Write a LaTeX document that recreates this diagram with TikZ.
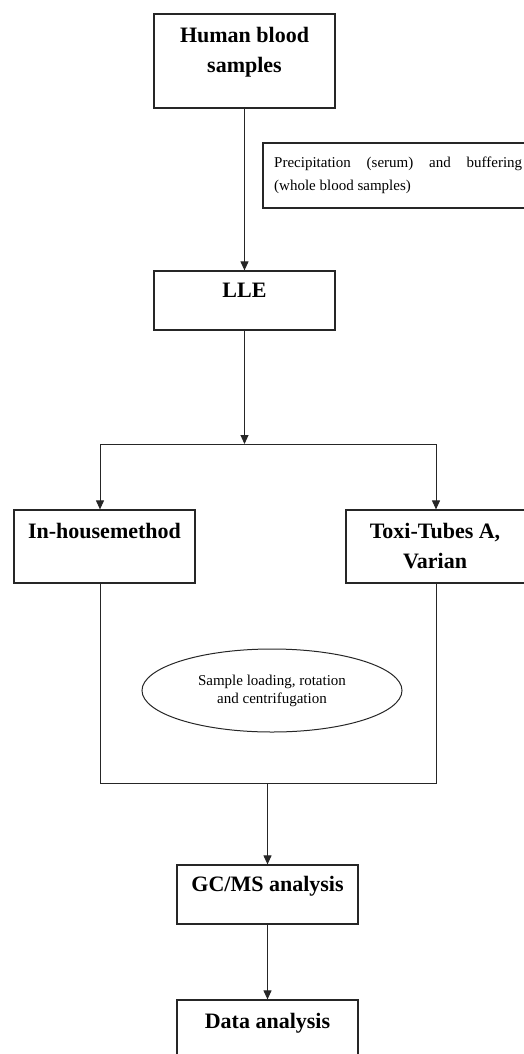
\documentclass[tikz,border=0pt]{standalone}
\usepackage{fontspec}
\setmainfont{Liberation Serif}
\usetikzlibrary{arrows.meta,shapes.geometric,calc}
\begin{document}
\begin{tikzpicture}[x=1pt,y=-1pt,
  box/.style={draw=black!85, line width=1.2pt, rectangle, inner sep=0pt},
  bigtxt/.style={font=\fontsize{22}{30}\selectfont\bfseries, align=center, inner sep=0pt, anchor=north},
  smalltxt/.style={font=\fontsize{15}{18}\selectfont, align=center, inner sep=0pt},
  arr/.style={draw=black!85, -{Triangle[length=9pt,width=8pt]}, line width=1pt},
  ln/.style={draw=black!85, line width=1pt}]
\useasboundingbox (0,0) rectangle (524,1054);
\clip (0,0) rectangle (524,1054);

% boxes
\node[box, minimum width=181pt, minimum height=94pt] (human) at (244.5,61) {};
\node[bigtxt] (humant) at (244.5,27) {Human blood\\samples};

\node[box, minimum width=267pt, minimum height=65pt] (prec) at (396.5,175.5) {};
\node[anchor=north west, inner sep=0pt, align=left, font=\fontsize{15}{23}\selectfont] (prect) at (274,157)
  {\makebox[248pt][s]{Precipitation (serum) and buffering}\\(whole blood samples)};

\node[box, minimum width=181pt, minimum height=59pt] (lle) at (244.5,300.5) {};
\node[bigtxt] (llet) at (244.5,283) {LLE};

\node[box, minimum width=181pt, minimum height=73pt] (inhouse) at (104.5,546.5) {};
\node[bigtxt] (inhouset) at (104.5,523) {In-housemethod};

\node[box, minimum width=180pt, minimum height=73pt] (toxi) at (436,546.5) {};
\node[bigtxt] (toxit) at (435,523) {Toxi-Tubes A,\\Varian};

\node[draw=black!85, line width=1pt, ellipse, minimum width=260pt, minimum height=83pt, inner sep=0pt,
      smalltxt] (ell) at (272,690.5) {Sample loading, rotation\\and centrifugation};

\node[box, minimum width=181pt, minimum height=59pt] (gc) at (267.5,894.5) {};
\node[bigtxt] (gct) at (267.5,876) {GC/MS analysis};

\node[box, minimum width=181pt, minimum height=64pt] (data) at (267.5,1032) {};
\node[bigtxt] (datat) at (267.5,1013) {Data analysis};

% coordinates
\coordinate (split) at (244.5,444);
\coordinate (splitL) at (100,444);
\coordinate (splitR) at (436,444);
\coordinate (joinL) at (100,783);
\coordinate (joinR) at (436,783);

% connectors
\draw[arr] (human) -- (lle);
\draw[arr] (lle) -- (split);
\draw[ln] (splitL) -- (splitR);
\draw[arr] (splitL) -- (splitL |- inhouse.north);
\draw[arr] (splitR) -- (splitR |- toxi.north);
\draw[ln] (splitL |- inhouse.south) -- (joinL) -- (joinR) -- (splitR |- toxi.south);
\draw[arr] (gc.north |- joinL) -- (gc);
\draw[arr] (gc) -- (data);
\end{tikzpicture}
\end{document}
